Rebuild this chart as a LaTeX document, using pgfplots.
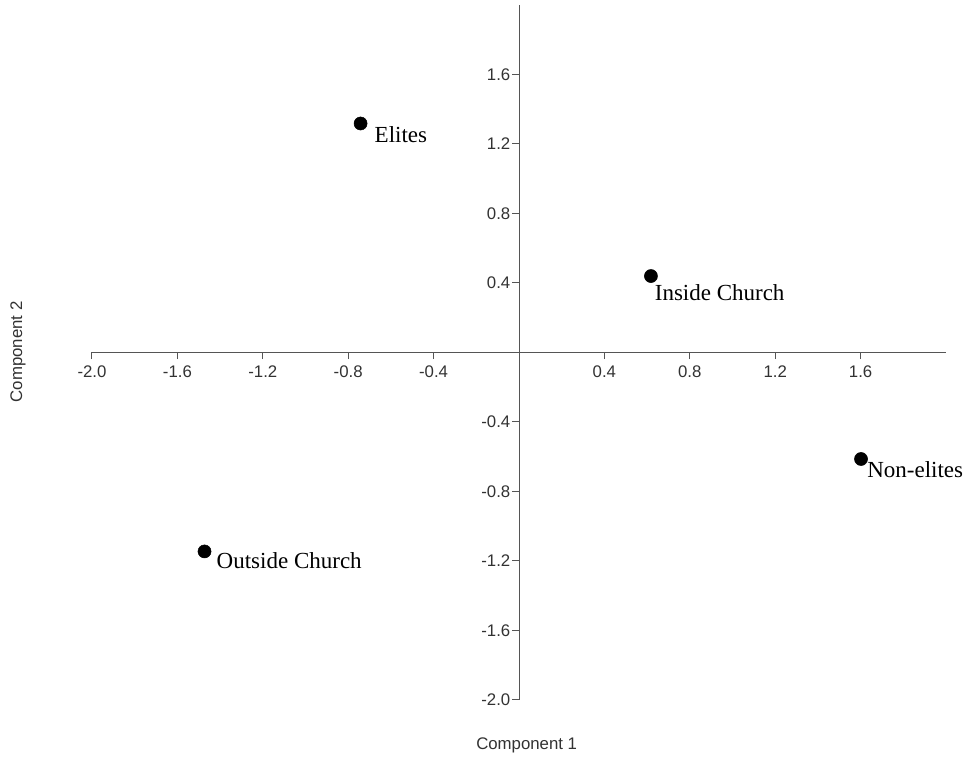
\documentclass[border=0pt]{standalone}
\usepackage{pgfplots}
\pgfplotsset{compat=1.18}
\usepackage{fontspec}
\setmainfont{Liberation Serif}
\newfontfamily\arialfont{Liberation Sans}
\definecolor{axisgray}{RGB}{85,85,85}
\definecolor{textgray}{RGB}{50,50,50}
\begin{document}
\begin{tikzpicture}
\begin{axis}[
  name=ax,
  scale only axis,
  width=640.5pt, height=521.25pt,
  xmin=-2, xmax=2, ymin=-2, ymax=2,
  axis lines=middle,
  axis line style={-, axisgray, line width=0.75pt},
  xtick={-2,-1.6,-1.2,-0.8,-0.4,0.4,0.8,1.2,1.6},
  ytick={-2,-1.6,-1.2,-0.8,-0.4,0.4,0.8,1.2,1.6},
  tick align=outside,
  major tick length=5pt,
  tick style={axisgray, line width=0.75pt},
  ticklabel style={font=\arialfont\fontsize{12.6}{14}\selectfont, text=textgray},
  xticklabel style={yshift=-1.2pt},
  yticklabel style={xshift=2pt},
  /pgf/number format/fixed,
  /pgf/number format/fixed zerofill,
  /pgf/number format/precision=1,
  /pgf/number format/assume math mode=true,
  xlabel={Component 1}, ylabel={Component 2},
  every axis x label/.style={at={(axis description cs:0.509,-0.066)}, anchor=center, font=\arialfont\fontsize{12.6}{14}\selectfont, text=textgray},
  every axis y label/.style={at={(axis description cs:-0.0867,0.5007)}, anchor=center, rotate=90, font=\arialfont\fontsize{12.6}{14}\selectfont, text=textgray},
  clip=false,
]
\addplot[only marks, mark=*, mark size=4.9pt, black] coordinates {
  (-0.742, 1.318)
  (0.618, 0.440)
  (1.602, -0.613)
  (-1.473, -1.145)
};
\node[anchor=base west, inner sep=0pt, font=\fontsize{17.25}{20}\selectfont] at (axis cs:-0.677,1.209) {Elites};
\node[anchor=base west, inner sep=0pt, font=\fontsize{17.25}{20}\selectfont] at (axis cs:0.635,0.301) {Inside Church};
\node[anchor=base west, inner sep=0pt, font=\fontsize{17.25}{20}\selectfont] at (axis cs:1.630,-0.717) {Non-elites};
\node[anchor=base west, inner sep=0pt, font=\fontsize{17.25}{20}\selectfont] at (axis cs:-1.417,-1.246) {Outside Church};
\end{axis}
\pgfresetboundingbox
\path[use as bounding box] ([xshift=-69pt,yshift=-45.75pt]ax.south west) rectangle ([xshift=18.75pt,yshift=3.75pt]ax.north east);
\end{tikzpicture}
\end{document}
